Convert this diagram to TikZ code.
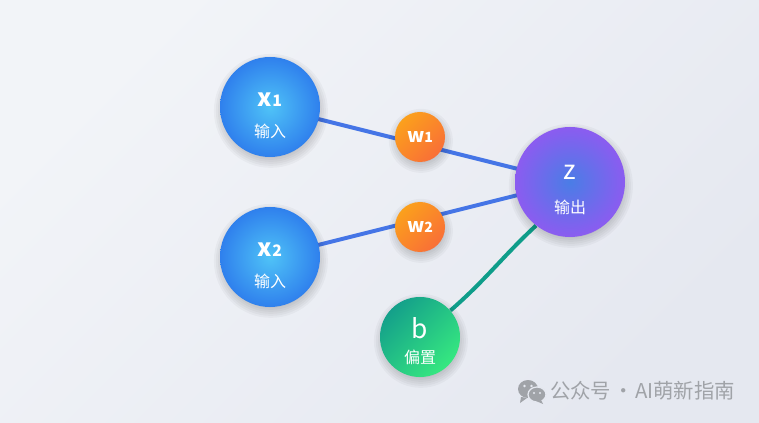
\documentclass[tikz,border=0pt]{standalone}
\usepackage{fontspec}
\setmainfont{Noto Sans CJK SC}
\usetikzlibrary{backgrounds}

\definecolor{bgstart}{HTML}{F2F4F8}
\definecolor{bgend}{HTML}{E5E8F0}
\definecolor{inputin}{HTML}{4FC3F7}
\definecolor{inputout}{HTML}{2F80ED}
\definecolor{outputin}{HTML}{4A7DE6}
\definecolor{outputout}{HTML}{8B5CF0}
\definecolor{weightstart}{HTML}{FBA01C}
\definecolor{weightend}{HTML}{F96F37}
\definecolor{biasstart}{HTML}{14A08A}
\definecolor{biasend}{HTML}{36E880}
\definecolor{linkblue}{HTML}{4575E6}
\definecolor{linkteal}{HTML}{0F9D8A}
\definecolor{markgray}{HTML}{A0A3A8}

\tikzset{
    neuron/.style={circle, inner sep=0pt},
    inputnode/.style={neuron, minimum size=2cm, inner color=inputin, outer color=inputout},
    outputnode/.style={neuron, minimum size=2.2cm, inner color=outputin, outer color=outputout},
    weightnode/.style={neuron, minimum size=1cm, white, font=\fontsize{11}{12}\selectfont\bfseries, top color=weightstart, bottom color=weightend, shading angle=45},
    biasnode/.style={neuron, minimum size=1.6cm, top color=biasstart, bottom color=biasend, shading angle=45},
    nametext/.style={white, font=\fontsize{13.7}{14}\selectfont},
    bigtext/.style={white, font=\fontsize{15}{16}\selectfont},
    subtext/.style={white, font=\fontsize{9.1}{10}\selectfont},
    link/.style={line width=.8mm, linkblue},
    biaslink/.style={line width=.8mm, linkteal},
    halo/.style={black, opacity=.03},
}

\begin{document}
\begin{tikzpicture}[x=.2mm, y=.2mm]
    \useasboundingbox (0,0) rectangle (759,422);

    % Neuroni
    \node[inputnode] (x1) at (270,315) {};
    \node[inputnode] (x2) at (270,165) {};
    \node[weightnode] (w1) at (420,285) {w{\fontsize{8}{9}\selectfont 1}};
    \node[weightnode] (w2) at (420,195) {w{\fontsize{8}{9}\selectfont 2}};
    \node[outputnode] (z) at (570,240) {};
    \node[biasnode] (b) at (420,85) {};

    % Testi
    \node[nametext] (x1name) at (270,322) {\bfseries x{\fontsize{9}{10}\selectfont 1}};
    \node[subtext] (x1sub) at (270,291) {输入};
    \node[nametext] (x2name) at (270,172) {\bfseries x{\fontsize{9}{10}\selectfont 2}};
    \node[subtext] (x2sub) at (270,141) {输入};
    \node[bigtext] (zname) at (570,250) {z};
    \node[bigtext] (bname) at (420,94) {b};
    \node[subtext] (zsub) at (570,215) {输出};
    \node[subtext] (bsub) at (420,65) {偏置};

    % Collegamenti e ombre
    \begin{pgfonlayer}{background}
        \shade[top color=bgstart, bottom color=bgend, shading angle=45] (0,0) rectangle (759,422);
        \draw[link] (x1.center) -- (z.center);
        \draw[link] (x2.center) -- (z.center);
        \draw[biaslink] (b.41) to[out=41, in=223] (z.232);
        \foreach \n/\r in {x1/50, x2/50, w1/25, w2/25, z/55, b/40}
            \foreach \d in {-3,-1,...,7}
                \fill[halo] ([xshift=.5pt, yshift=-2.2pt]\n.center) circle ({\r+\d});
    \end{pgfonlayer}

    % Marchio
    \fill[markgray] (528,33) ellipse (10 and 9);
    \fill[markgray] (521,25) -- (520,19) -- (527,24) -- cycle;
    \fill[markgray, draw=bgend, line width=.25mm] (537,27.5) ellipse (9 and 7.5);
    \fill[markgray] (541,22) -- (543,18) -- (536,21) -- cycle;
    \fill[bgend] (524.5,36) circle (1.4);
    \fill[bgend] (531.5,36) circle (1.4);
    \fill[bgend] (534,29) circle (1.1);
    \fill[bgend] (540,29) circle (1.1);
    \node[anchor=east, inner sep=0pt, markgray, font=\fontsize{11.6}{12}\selectfont] (mark) at (735.5,31) {公众号\hspace{1pt}·\hspace{1pt}AI萌新指南};
\end{tikzpicture}
\end{document}
